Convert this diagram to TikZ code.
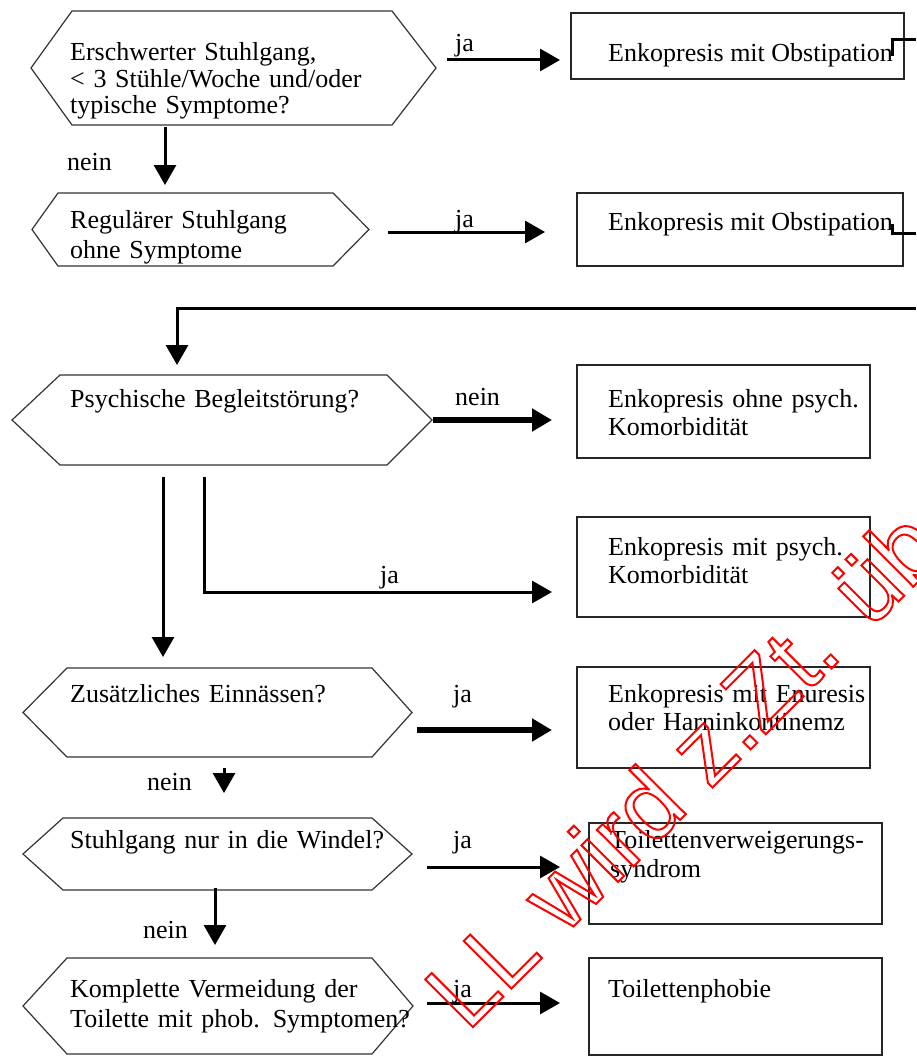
\documentclass[tikz,border=0pt]{standalone}
\usepackage{fontspec}
\setmainfont{Liberation Serif}
\newfontfamily\stampfont{Liberation Sans}
\usetikzlibrary{arrows.meta}

% hexagon outline around a (plain) node: name, left depth, right depth
\newcommand{\hexframe}[3]{%
  \draw[hexline] (#1.west) -- ([xshift=#2]#1.north west) -- ([xshift=-#3]#1.north east)
    -- (#1.east) -- ([xshift=-#3]#1.south east) -- ([xshift=#2]#1.south west) -- cycle;}

\begin{document}
\begin{tikzpicture}[
  x=1pt, y=-1pt,
  font=\fontsize{26}{28}\selectfont,
  hexa/.style={anchor=north west, inner sep=0pt, outer sep=0pt},
  hexline/.style={draw=black!80, line width=1.2pt},
  res/.style={draw=black!85, line width=1.5pt, anchor=north west, inner sep=0pt, outer sep=0pt},
  txt/.style={anchor=base west, inner sep=0pt},
  mtxt/.style={txt, text width=345pt, align=left},
  arr/.style={-{Triangle[length=20pt,width=22pt]}, line width=3pt},
  fatarr/.style={arr, line width=5.5pt},
  link/.style={line width=3pt}
]
\useasboundingbox (0,0) rectangle (916,1057);

% questions
\node[hexa, minimum width=405pt, minimum height=114pt] (hard) at (31,11) {};
\node[hexa, minimum width=337pt, minimum height=73pt] (regular) at (32,193) {};
\node[hexa, minimum width=420pt, minimum height=90pt] (psych) at (12,375) {};
\node[hexa, minimum width=389pt, minimum height=89pt] (wet) at (23,668) {};
\node[hexa, minimum width=389pt, minimum height=72pt] (diaper) at (23,818) {};
\node[hexa, minimum width=390pt, minimum height=96pt] (avoid) at (23,958) {};
\hexframe{hard}{41pt}{44pt}
\hexframe{regular}{26pt}{36pt}
\hexframe{psych}{48pt}{45pt}
\hexframe{wet}{44pt}{40pt}
\hexframe{diaper}{40pt}{40pt}
\hexframe{avoid}{44pt}{41pt}

\node[mtxt, font=\fontsize{26}{26}\selectfont] (hardTxt) at (70,61) {Erschwerter Stuhlgang,\\ < 3 Stühle/Woche und/oder\\typische Symptome?};
\node[mtxt, font=\fontsize{26}{30}\selectfont] (regularTxt) at (70,228) {Regulärer Stuhlgang\\ohne Symptome};
\node[mtxt] (psychTxt) at (70,407) {Psychische Begleitstörung?};
\node[mtxt] (wetTxt) at (70,702) {Zusätzliches Einnässen?};
\node[mtxt] (diaperTxt) at (70,848) {Stuhlgang nur in die Windel?};
\node[mtxt, font=\fontsize{26}{30}\selectfont] (avoidTxt) at (70,997) {Komplette Vermeidung der\\Toilette mit phob. Symptomen?};

% results
\node[res, minimum width=333pt, minimum height=66pt] (obstA) at (571,13) {};
\node[res, minimum width=326pt, minimum height=73pt] (obstB) at (577,193) {};
\node[res, minimum width=293pt, minimum height=93pt] (noComorb) at (577,365) {};
\node[res, minimum width=293pt, minimum height=100pt] (comorb) at (577,517) {};
\node[res, minimum width=293pt, minimum height=101pt] (enuresis) at (577,667) {};
\node[res, minimum width=293pt, minimum height=101pt] (refusal) at (589,823) {};
\node[res, minimum width=293pt, minimum height=97pt] (phobia) at (589,958) {};

\node[txt] (obstATxt) at (608,62) {Enkopresis mit Obstipation};
\node[txt] (obstBTxt) at (608,230) {Enkopresis mit Obstipation};
\node[mtxt] (noComorbTxt) at (608,407) {Enkopresis ohne psych.\\Komorbidität};
\node[mtxt] (comorbTxt) at (608,555) {Enkopresis mit psych.\\Komorbidität};
\node[mtxt] (enuresisTxt) at (608,702) {Enkopresis mit Enuresis\\oder Harninkontinemz};
\node[mtxt, font=\fontsize{26}{29}\selectfont] (refusalTxt) at (610,848) {Toilettenverweigerungs-\\syndrom};
\node[mtxt] (phobiaTxt) at (608,997) {Toilettenphobie};

% answers
\node[txt] (jaA) at (455,52) {ja};
\node[txt] (neinA) at (67,170) {nein};
\node[txt] (jaB) at (455,227) {ja};
\node[txt] (neinC) at (455,405) {nein};
\node[txt] (jaC) at (380,583) {ja};
\node[txt] (jaD) at (453,702) {ja};
\node[txt] (neinD) at (147,790) {nein};
\node[txt] (jaE) at (453,848) {ja};
\node[txt] (neinE) at (143,938) {nein};
\node[txt] (jaF) at (453,997) {ja};

% lines leaving / entering at the right edge
\coordinate (outA) at (916,40);
\coordinate (outB) at (916,233);
\coordinate (inPsych) at (916,308);

\draw[arr] ([shift={(11,-8)}]hard.east) -- ([shift={(-11,14)}]obstA.west);
\draw[arr] ([shift={(-68.5,2)}]hard.south) -- ([shift={(-35.5,-8)}]regular.north);
\draw[arr] ([shift={(19,2.5)}]regular.east) -- ([shift={(-32,2.5)}]obstB.west);
\draw[link] (obstATxt.east) |- (outA);
\draw[link] (obstBTxt.east) |- (outB);

\draw[arr] (inPsych) -| ([shift={(-45,-10)}]psych.north);
\draw[fatarr] ([xshift=1pt]psych.east) -- ([shift={(-25,8.5)}]noComorb.west);
\draw[arr] ([shift={(-18,12)}]psych.south) |- ([shift={(-25,25)}]comorb.west);
\draw[arr] ([shift={(-59,12)}]psych.south) -- ([shift={(-54.5,-11)}]wet.north);

\draw[fatarr] ([shift={(5,17.5)}]wet.east) -- ([shift={(-25,12.5)}]enuresis.west);
\draw[arr] ([shift={(6.5,11)}]wet.south) -- ([shift={(6.5,-25)}]diaper.north);
\draw[arr] ([shift={(15,13)}]diaper.east) -- ([shift={(-29,-6.5)}]refusal.west);
\draw[arr] ([shift={(-2.5,-2)}]diaper.south) -- ([shift={(-3,-13)}]avoid.north);
\draw[arr] ([shift={(14,-3)}]avoid.east) -- ([shift={(-29,-3.5)}]phobia.west);

% stamp
\node[rotate=45, anchor=base west, inner sep=0pt, text=red, font=\stampfont\fontsize{98}{98}\selectfont] (stamp) at (312,1188)
  {\special{pdf:literal direct 1 Tr 2 w}Die\hspace{45pt} LL wird z.Zt. überarbeitet\special{pdf:literal direct 0 Tr}};
\end{tikzpicture}
\end{document}
